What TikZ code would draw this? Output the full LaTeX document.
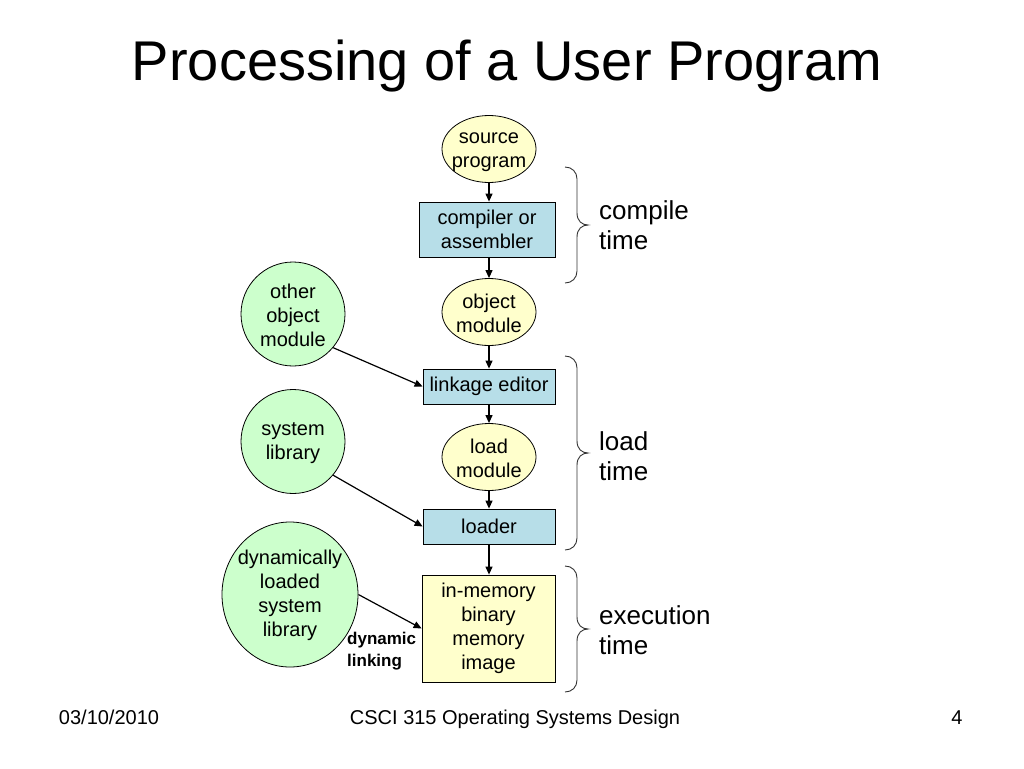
\documentclass[tikz,border=0pt]{standalone}
\usepackage{fontspec}
\setmainfont{Liberation Sans}
\usetikzlibrary{shapes.geometric,arrows.meta}
\definecolor{ylw}{HTML}{FFFFCC}
\definecolor{blu}{HTML}{B7DEE8}
\definecolor{grn}{HTML}{CCFFCC}
\newcommand{\drawbrace}[3]{% x, top y, bottom y
  \pgfmathsetmacro{\tipy}{(#2+#3)/2}
  \draw[brc] (#1,#2) .. controls (#1+7,#2) and (#1+12,#2+5) .. (#1+12,#2+12)
    -- (#1+12,\tipy-12) .. controls (#1+12,\tipy-4) and (#1+17,\tipy) .. (#1+23,\tipy)
    .. controls (#1+17,\tipy) and (#1+12,\tipy+4) .. (#1+12,\tipy+12)
    -- (#1+12,#3-12) .. controls (#1+12,#3-5) and (#1+7,#3) .. (#1,#3);}
\begin{document}
\begin{tikzpicture}[x=1pt,y=-1pt,
 every node/.style={font=\fontsize{20}{24}\selectfont, align=center, inner sep=0pt},
 oval/.style={ellipse, draw, fill=ylw, line width=0.8pt, inner sep=-8pt, minimum width=94pt, minimum height=67pt},
 proc/.style={rectangle, draw, fill=blu, line width=0.8pt, minimum width=132pt, minimum height=35pt},
 lib/.style={ellipse, draw, fill=grn, line width=0.8pt, inner sep=-8pt},
 arr/.style={-{Triangle[length=8pt,width=7pt]}, line width=1.2pt},
 brc/.style={line width=0.9pt, draw=black!80},
 lbl/.style={anchor=west, align=left, font=\fontsize{26}{30}\selectfont},
 foot/.style={anchor=base}]
\fill[white] (0,0) rectangle (1024,768);
\useasboundingbox (0,0) rectangle (1024,768);

\node[font=\fontsize{56}{60}\selectfont] (title) at (507,66) {Processing of a User Program};

\node[oval] (src) at (489,149) {\strut source\\program};
\node[proc, minimum width=136pt, minimum height=55pt] (comp) at (487,229.5) {compiler or\\assembler};
\node[oval] (obj) at (489,312) {\strut object\\module};
\node[proc] (link) at (489,386.5) {linkage editor};
\node[oval] (lm) at (489,457) {\strut load\\module};
\node[proc] (ldr) at (489,526.5) {loader};
\node[rectangle, draw, fill=ylw, line width=0.8pt, minimum width=133pt, minimum height=107pt] (mem) at (488.5,628.5) {in-memory\\binary\\memory\\image};

\node[lib, minimum width=104pt, minimum height=104pt] (oom) at (293,314) {\strut other\\object\\module};
\node[lib, minimum width=104pt, minimum height=104pt] (sys) at (293,441.5) {\strut system\\library};
\node[lib, minimum width=136pt, minimum height=145pt] (dyn) at (290,594.5) {\strut dynamically\\loaded\\system\\library};

\draw[arr] (src) -- (src |- comp.north);
\draw[arr] (comp.south -| obj) -- (obj);
\draw[arr] (obj) -- (link);
\draw[arr] (link) -- (lm);
\draw[arr] (lm) -- (ldr);
\draw[arr] (ldr) -- (ldr |- mem.north);

\draw[arr] (oom.-40) -- (link.west);
\draw[arr] (sys.-40) -- (ldr.west);
\draw[arr] (dyn.east) -- (mem.west);

\node[anchor=west, align=left, font=\bfseries\fontsize{17}{22}\selectfont] (dl) at (347,651) {dynamic\\linking};

\drawbrace{565}{167}{283}
\drawbrace{565}{356}{550}
\drawbrace{565}{566}{692}

\node[lbl] (ct) at (599,225) {compile\\time};
\node[lbl] (lt) at (599,456) {load\\time};
\node[lbl] (et) at (599,630) {execution\\time};

\node[foot] (date) at (109,724) {03/10/2010};
\node[foot] (course) at (515,724) {CSCI 315 Operating Systems Design};
\node[foot] (page) at (957,724) {4};
\end{tikzpicture}
\end{document}
